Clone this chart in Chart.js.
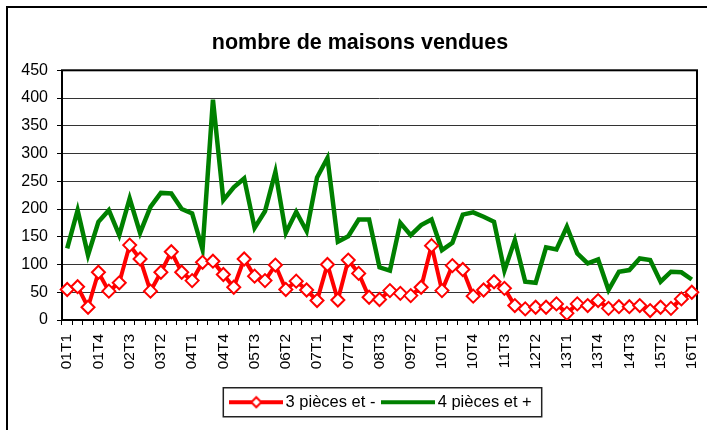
<!DOCTYPE html>
<html>
<head>
<meta charset="utf-8">
<script src="https://cdn.jsdelivr.net/npm/chart.js@4"></script>
<style>
  html, body { margin: 0; padding: 0; background: #fff; }
  #wrap { width: 707px; height: 430px; position: relative; }
</style>
</head>
<body>
<div id="wrap"><canvas id="chart"></canvas></div>
<script>
/* DATA */
const quarters = [
  "01T1","01T2","01T3","01T4","02T1","02T2","02T3","02T4",
  "03T1","03T2","03T3","03T4","04T1","04T2","04T3","04T4",
  "05T1","05T2","05T3","05T4","06T1","06T2","06T3","06T4",
  "07T1","07T2","07T3","07T4","08T1","08T2","08T3","08T4",
  "09T1","09T2","09T3","09T4","10T1","10T2","10T3","10T4",
  "11T1","11T2","11T3","11T4","12T1","12T2","12T3","12T4",
  "13T1","13T2","13T3","13T4","14T1","14T2","14T3","14T4",
  "15T1","15T2","15T3","15T4","16T1"
];

const small = [
  55, 60, 23, 86, 52, 67, 135, 110, 52, 86, 123, 86, 71, 104, 106, 82,
  59, 110, 79, 71, 99, 55, 70, 54, 35, 100, 36, 108, 84, 41, 37, 53,
  48, 44, 59, 134, 53, 98, 91, 43, 54, 69, 57, 26, 20, 23, 23, 29,
  12, 29, 26, 35, 21, 24, 24, 26, 17, 23, 21, 38, 50
];

const big = [
  129, 198, 117, 177, 198, 153, 219, 157, 204, 229, 228, 200, 192, 127, 397, 216,
  239, 255, 166, 196, 267, 157, 195, 160, 257, 292, 141, 151, 181, 181, 95, 89,
  175, 153, 171, 181, 126, 139, 190, 194, 186, 177, 89, 144, 69, 67, 131, 127,
  168, 120, 102, 109, 54, 87, 90, 111, 108, 69, 87, 86, 73
];

const yTicks = [0, 50, 100, 150, 200, 250, 300, 350, 400, 450];

const FONT = "'Liberation Sans', Arial, sans-serif";

/* legend samples */
function sample(color, marker) {
  const c = document.createElement("canvas");
  c.width = 54; c.height = 14;
  const g = c.getContext("2d");
  g.strokeStyle = color;
  g.lineWidth = 4;
  g.beginPath(); g.moveTo(0, 7); g.lineTo(54, 7); g.stroke();
  if (marker) {
    g.fillStyle = "#fff";
    g.lineWidth = 2;
    g.beginPath();
    g.moveTo(27, 2); g.lineTo(32, 7); g.lineTo(27, 12); g.lineTo(22, 7); g.closePath();
    g.fill(); g.stroke();
  }
  return c;
}
const sampleRed = sample("#ff0000", true);
const sampleGreen = sample("#008000", false);

/* FRAMES */
const frames = {
  id: "frames",
  afterLayout(chart) {
    chart.titleBlock.left += 11.5;
    chart.titleBlock.right += 11.5;
    chart.legend.left += 35;
    chart.legend.right += 35;
  },
  beforeDatasetsDraw(chart) {
    const { ctx, chartArea: a } = chart;
    ctx.save();
    ctx.strokeStyle = "#000";
    ctx.lineWidth = 2;
    ctx.strokeRect(a.left, a.top, a.right - a.left, a.bottom - a.top);
    ctx.restore();
  },
  afterDraw(chart) {
    const ctx = chart.ctx;
    ctx.save();
    ctx.strokeStyle = "#000";
    ctx.lineWidth = 2;
    ctx.strokeRect(7, 7, 800, 600);
    const hb = chart.legend.legendHitBoxes;
    if (hb && hb.length) {
      const last = hb[hb.length - 1];
      const yc = hb[0].top + hb[0].height / 2;
      const x0 = hb[0].left - 12;
      ctx.strokeStyle = "#222";
      ctx.lineWidth = 1.5;
      ctx.strokeRect(x0, yc - 14.5, last.left + last.width + 10 - x0, 29);
    }
    ctx.restore();
  }
};

new Chart(document.getElementById("chart"), {
  type: "line",
  data: {
    labels: quarters,
    datasets: [
      {
        label: "3 pièces et -",
        data: small,
        borderColor: "#ff0000",
        borderWidth: 4,
        tension: 0,
        pointStyle: "rectRot",
        pointRadius: 6.5,
        pointBorderWidth: 2,
        pointBackgroundColor: "#fff",
        pointBorderColor: "#ff0000"
      },
      {
        label: "4 pièces et +",
        data: big,
        borderColor: "#008000",
        borderWidth: 4.5,
        tension: 0,
        pointRadius: 0
      }
    ]
  },
  options: {
    responsive: true,
    maintainAspectRatio: false,
    animation: false,
    layout: { padding: { top: 0, left: 0, right: 10, bottom: 9.5 } },
    plugins: {
      tooltip: { enabled: false },
      title: {
        display: true,
        text: "nombre de maisons vendues",
        color: "#000",
        font: { family: FONT, size: 21.5, weight: "bold" },
        padding: { top: 30, bottom: 14.5 }
      },
      legend: {
        position: "bottom",
        labels: {
          color: "#000",
          font: { family: FONT, size: 16.5 },
          usePointStyle: true,
          pointStyleWidth: 42,
          padding: 12,
          generateLabels: chart => chart.data.datasets.map((ds, i) => ({
            text: ds.label,
            datasetIndex: i,
            pointStyle: i === 0 ? sampleRed : sampleGreen,
            fillStyle: ds.borderColor,
            strokeStyle: ds.borderColor,
            lineWidth: 0,
            hidden: false
          }))
        }
      }
    },
    scales: {
      x: {
        offset: true,
        afterFit: s => { s.height = 62; s.paddingLeft = 0; s.paddingRight = 0; },
        grid: { drawOnChartArea: false, offset: true, tickLength: 5, color: "#000", tickColor: "#000" },
        border: { display: false },
        ticks: {
          autoSkip: false,
          maxRotation: 90,
          minRotation: 90,
          padding: 9,
          color: "#000",
          font: { family: FONT, size: 15.5 },
          callback: (v, i) => (i % 3 === 0 ? quarters[i] : "")
        }
      },
      y: {
        min: yTicks[0],
        max: yTicks[yTicks.length - 1],
        afterFit: s => { s.width = 62; s.paddingTop = 0; s.paddingBottom = 0; },
        afterBuildTicks: s => { s.ticks = yTicks.map(v => ({ value: v })); },
        grid: { color: "#333", lineWidth: 1, tickLength: 5, tickColor: "#000" },
        border: { display: false },
        ticks: {
          padding: 9,
          color: "#000",
          font: { family: FONT, size: 16 }
        }
      }
    }
  },
  plugins: [frames]
});
</script>
</body>
</html>
